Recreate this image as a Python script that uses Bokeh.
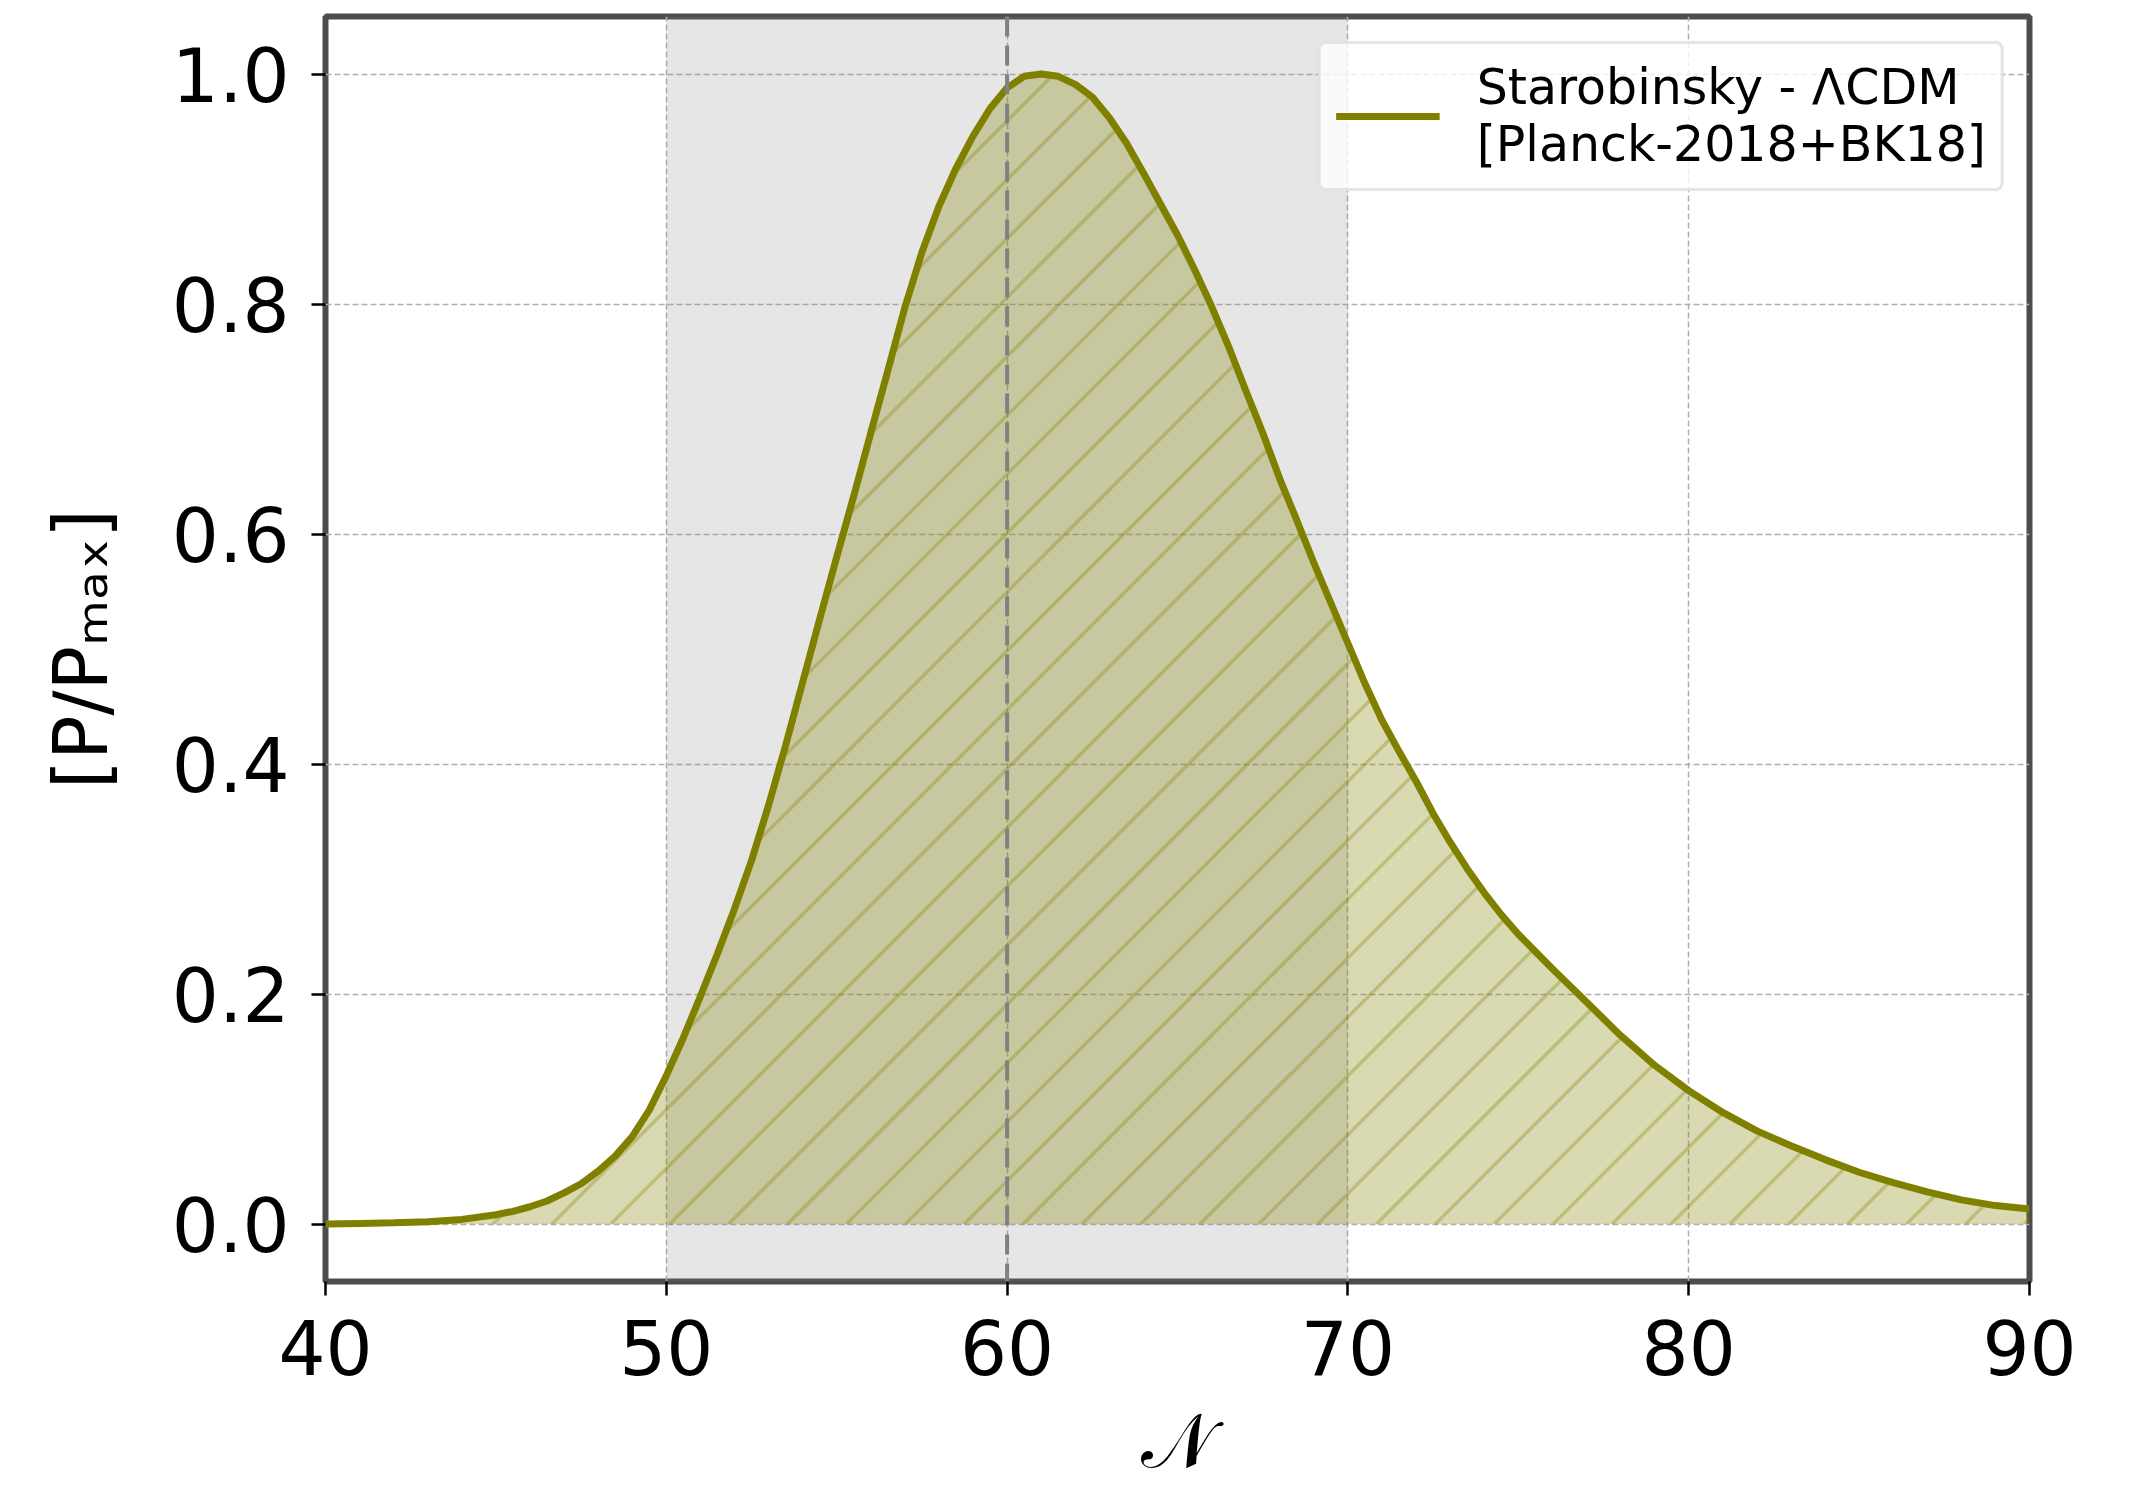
import numpy as np
from bokeh.plotting import figure
from bokeh.models import (Span, BoxAnnotation, Legend, LegendItem,
                          FixedTicker, Range1d, PrintfTickFormatter)
from bokeh.embed import file_html
from bokeh.resources import INLINE

# ---------------- data ----------------
N_VALUES = [40, 41, 42, 43, 44, 45, 45.5, 46, 46.5, 47, 47.5, 48, 48.5, 49, 49.5,
            50, 50.5, 51, 51.5, 52, 52.5, 53, 53.5, 54, 54.5, 55, 55.5, 56, 56.5,
            57, 57.5, 58, 58.5, 59, 59.5, 60, 60.5, 61, 61.5, 62, 62.5, 63, 63.5,
            64, 64.5, 65, 65.5, 66, 66.5, 67, 67.5, 68, 68.5, 69, 69.5, 70, 70.5,
            71, 71.5, 72, 72.5, 73, 73.5, 74, 74.5, 75, 75.5, 76, 77, 78, 79,
            80, 81, 82, 83, 84, 85, 86, 87, 88, 89, 90]
P_VALUES = [0.0, 0.0005, 0.001, 0.002, 0.004, 0.008, 0.011, 0.015, 0.020, 0.027, 0.035,
            0.046, 0.059, 0.076, 0.099,
            0.129, 0.162, 0.198, 0.235, 0.274, 0.316, 0.364, 0.416, 0.471, 0.526,
            0.580, 0.633, 0.688, 0.742,
            0.797, 0.845, 0.885, 0.918, 0.946, 0.970, 0.988, 0.998, 1.0, 0.998,
            0.991, 0.980, 0.962, 0.940,
            0.914, 0.887, 0.860, 0.830, 0.798, 0.763, 0.725, 0.688, 0.648, 0.612,
            0.575, 0.540, 0.505, 0.470,
            0.438, 0.411, 0.385, 0.357, 0.332, 0.309, 0.288, 0.269, 0.252, 0.237,
            0.222, 0.193, 0.164, 0.138,
            0.116, 0.097, 0.081, 0.068, 0.056, 0.045, 0.036, 0.028, 0.021, 0.016, 0.013]
X_TICKS = [40, 50, 60, 70, 80, 90]
Y_TICKS = [0.0, 0.2, 0.4, 0.6, 0.8, 1.0]
SHADE_START, SHADE_END = 50, 70
MARKER_N = 60
SERIES_LABEL = "Starobinsky - \u039bCDM\n[Planck-2018+BK18]"
X_LABEL = "\U0001D4A9"
Y_LABEL = "[P/P\u2098\u2090\u2093]"

OLIVE = "#808000"

# ---------------- figure ----------------
FRAME_L, FRAME_T, FRAME_W, FRAME_H = 325, 16, 1704, 1265
X0, X1 = 40, 90
Y0, Y1 = -0.05, 1.05

p = figure(frame_width=FRAME_W, frame_height=FRAME_H,
           x_range=Range1d(X0, X1), y_range=Range1d(Y0, Y1),
           output_backend="svg", toolbar_location=None,
           min_border_left=FRAME_L, min_border_right=2131 - FRAME_L - FRAME_W,
           min_border_top=FRAME_T, min_border_bottom=1499 - FRAME_T - FRAME_H,
           background_fill_color="white", border_fill_color="white")

p.outline_line_color = "#4d4d4d"
p.outline_line_width = 6

for ax in (p.xaxis[0], p.yaxis[0]):
    ax.axis_line_color = None
    ax.major_tick_in = 0
    ax.major_tick_out = 14
    ax.major_tick_line_width = 2.5
    ax.major_tick_line_color = "black"
    ax.minor_tick_line_color = None
    ax.major_label_text_font = "DejaVu Sans"
    ax.major_label_text_font_size = "74px"
    ax.major_label_text_color = "black"
    ax.axis_label_text_color = "black"
    ax.axis_label_text_font_style = "normal"

p.xaxis.ticker = FixedTicker(ticks=X_TICKS)
p.yaxis.ticker = FixedTicker(ticks=Y_TICKS)
p.yaxis.formatter = PrintfTickFormatter(format="%.1f")
p.xaxis.major_label_standoff = 24
p.yaxis.major_label_standoff = 22

p.xaxis.axis_label = X_LABEL
p.xaxis.axis_label_text_font = "DejaVu Serif"
p.xaxis.axis_label_text_font_size = "76px"
p.xaxis.axis_label_standoff = 18

p.yaxis.axis_label = Y_LABEL
p.yaxis.axis_label_text_font = "DejaVu Sans"
p.yaxis.axis_label_text_font_size = "74px"
p.yaxis.axis_label_standoff = 45

for g in (p.xgrid[0], p.ygrid[0]):
    g.grid_line_color = "#b0b0b0"
    g.grid_line_dash = "6 3"
    g.grid_line_width = 1.5

shade = BoxAnnotation(left=SHADE_START, right=SHADE_END, fill_color="grey",
                      fill_alpha=0.2, line_color=None, level="underlay")
p.add_layout(shade)

# filled area under the curve
p.varea(x=N_VALUES, y1=[0.0] * len(N_VALUES), y2=P_VALUES,
        fill_color=OLIVE, fill_alpha=0.3)

# 45-degree "/" hatching of the filled area, derived from the curve
HATCH_SPACING_PX = 58.9
HATCH_PHASE_N = 48.37
px_per_x = FRAME_W / (X1 - X0)
px_per_y = FRAME_H / (Y1 - Y0)
slope = px_per_x / px_per_y
step = HATCH_SPACING_PX / px_per_x
xs = np.linspace(X0, X1, 20001)
ps = np.interp(xs, N_VALUES, P_VALUES)
c_min = X0 - max(P_VALUES) / slope - step
k_lo = int(np.floor((c_min - HATCH_PHASE_N) / step))
k_hi = int(np.ceil((X1 - HATCH_PHASE_N) / step))
hx0, hy0, hx1, hy1 = [], [], [], []
for k in range(k_lo, k_hi + 1):
    c = HATCH_PHASE_N + k * step
    ray = (xs - c) * slope
    inside = (xs >= c) & (ray < ps)
    if not inside.any():
        continue
    d = np.diff(inside.astype(int))
    starts = list(np.where(d == 1)[0] + 1)
    ends = list(np.where(d == -1)[0])
    if inside[0]:
        starts = [0] + starts
    if inside[-1]:
        ends = ends + [len(xs) - 1]
    for s_, e_ in zip(starts, ends):
        if xs[e_] - xs[s_] < 0.05:
            continue
        hx0.append(xs[s_])
        hy0.append(max(ray[s_], 0.0))
        hx1.append(xs[e_])
        hy1.append(ray[e_])
p.segment(hx0, hy0, hx1, hy1, line_color=OLIVE, line_alpha=0.3, line_width=3.5)

line_r = p.line(N_VALUES, P_VALUES, line_color=OLIVE, line_width=7)

vline = Span(location=MARKER_N, dimension="height", line_color="grey",
             line_dash="20 9", line_width=4)
p.add_layout(vline)

legend = Legend(items=[LegendItem(label=SERIES_LABEL, renderers=[line_r])],
                location="top_right")
legend.label_text_font = "DejaVu Sans"
legend.label_text_font_size = "49px"
legend.label_text_color = "black"
legend.label_text_line_height = 1.12
legend.glyph_width = 104
legend.glyph_height = 40
legend.label_standoff = 37
legend.padding = 15
legend.margin = 25
legend.border_line_color = "#cccccc"
legend.border_line_width = 3
legend.background_fill_color = "white"
legend.background_fill_alpha = 0.8
try:
    legend.border_radius = 8
except Exception:
    pass
p.add_layout(legend)

open("out.html", "w").write(file_html(p, INLINE))
